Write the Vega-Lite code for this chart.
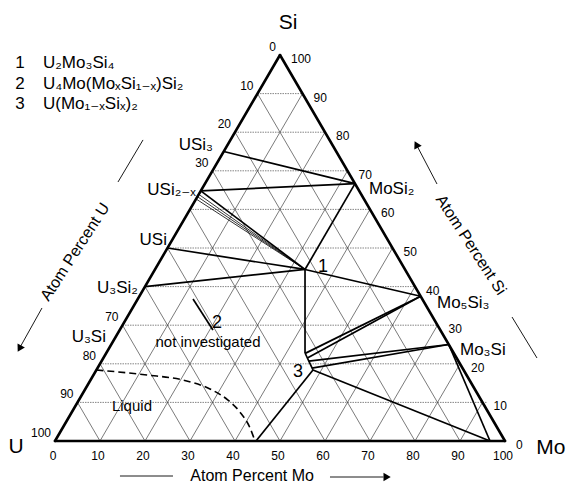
{
  "$schema": "https://vega.github.io/schema/vega-lite/v6.json",
  "width": 571,
  "height": 484,
  "autosize": "none",
  "padding": 0,
  "background": "white",
  "config": {
    "view": {"stroke": null},
    "text": {"font": "Liberation Sans, DejaVu Sans, sans-serif", "color": "black", "baseline": "middle"}
  },
  "datasets": {
    "grid_diag": [
      {"x": 10, "y": 0, "x2": 55, "y2": 90}, {"x": 20, "y": 0, "x2": 60, "y2": 80}, {"x": 30, "y": 0, "x2": 65, "y2": 70},
      {"x": 40, "y": 0, "x2": 70, "y2": 60}, {"x": 50, "y": 0, "x2": 75, "y2": 50}, {"x": 60, "y": 0, "x2": 80, "y2": 40},
      {"x": 70, "y": 0, "x2": 85, "y2": 30}, {"x": 80, "y": 0, "x2": 90, "y2": 20}, {"x": 90, "y": 0, "x2": 95, "y2": 10},
      {"x": 10, "y": 0, "x2": 5, "y2": 10}, {"x": 20, "y": 0, "x2": 10, "y2": 20}, {"x": 30, "y": 0, "x2": 15, "y2": 30},
      {"x": 40, "y": 0, "x2": 20, "y2": 40}, {"x": 50, "y": 0, "x2": 25, "y2": 50}, {"x": 60, "y": 0, "x2": 30, "y2": 60},
      {"x": 70, "y": 0, "x2": 35, "y2": 70}, {"x": 80, "y": 0, "x2": 40, "y2": 80}, {"x": 90, "y": 0, "x2": 45, "y2": 90}
    ],
    "grid_horiz": [
      {"x": 5, "y": 10, "x2": 96, "y2": 10}, {"x": 10, "y": 20, "x2": 90, "y2": 20}, {"x": 15, "y": 30, "x2": 85, "y2": 30},
      {"x": 20, "y": 40, "x2": 80, "y2": 40}, {"x": 25, "y": 50, "x2": 75, "y2": 50}, {"x": 30, "y": 60, "x2": 70, "y2": 60},
      {"x": 35, "y": 70, "x2": 65, "y2": 70}, {"x": 40, "y": 80, "x2": 60, "y2": 80}, {"x": 45, "y": 90, "x2": 55, "y2": 90}
    ],
    "edges": [
      {"x": 0, "y": 0, "x2": 100, "y2": 0}, {"x": 100, "y": 0, "x2": 50, "y2": 100}, {"x": 50, "y": 100, "x2": 0, "y2": 0}
    ],
    "phase_lines": [
      {"x": 37.5, "y": 75, "x2": 66.67, "y2": 66.67},
      {"x": 32.4, "y": 64.8, "x2": 66.67, "y2": 66.67},
      {"x": 32.4, "y": 64.8, "x2": 55.56, "y2": 44.44},
      {"x": 66.67, "y": 66.67, "x2": 55.56, "y2": 44.44},
      {"x": 25, "y": 50, "x2": 55.56, "y2": 44.44},
      {"x": 20, "y": 40, "x2": 55.56, "y2": 44.44},
      {"x": 55.56, "y": 44.44, "x2": 81.25, "y2": 37.5},
      {"x": 55.56, "y": 44.44, "x2": 55.56, "y2": 22.8},
      {"x": 55.56, "y": 22.8, "x2": 57.33, "y2": 18.4},
      {"x": 55.6, "y": 22.7, "x2": 81.25, "y2": 37.5},
      {"x": 56.08, "y": 21.5, "x2": 81.25, "y2": 37.5},
      {"x": 56.4, "y": 20.7, "x2": 87.5, "y2": 25},
      {"x": 57.1, "y": 18.9, "x2": 87.5, "y2": 25},
      {"x": 57.33, "y": 18.4, "x2": 96.67, "y2": 0},
      {"x": 57.33, "y": 18.4, "x2": 44.67, "y2": 0},
      {"x": 87.5, "y": 25, "x2": 96.67, "y2": 0},
      {"x": 30.67, "y": 36.8, "x2": 35.1, "y2": 28.76}
    ],
    "band_lines": [
      {"x": 31.95, "y": 63.9, "x2": 55.56, "y2": 44.44},
      {"x": 31.65, "y": 63.3, "x2": 55.56, "y2": 44.44},
      {"x": 31.35, "y": 62.7, "x2": 55.56, "y2": 44.44}
    ],
    "liquid": [
      {"o": 1, "x": 9.2, "y": 18.4}, {"o": 2, "x": 20.44, "y": 17.1}, {"o": 3, "x": 28.44, "y": 15.8},
      {"o": 4, "x": 34.44, "y": 13.47}, {"o": 5, "x": 38.44, "y": 10.6}, {"o": 6, "x": 41.11, "y": 7.5},
      {"o": 7, "x": 43.33, "y": 3.4}, {"o": 8, "x": 44.44, "y": 0}
    ],
    "decor": [
      {"x": 14.44, "y": -9.07, "x2": 26.22, "y2": -9.07},
      {"x": 61.11, "y": -9.33, "x2": 73.0, "y2": -9.33},
      {"x": 14.0, "y": 67.1, "x2": 19.56, "y2": 78.0},
      {"x": -2.89, "y": 34.46, "x2": -7.9, "y2": 24.0},
      {"x": 84.89, "y": 66.58, "x2": 80.3, "y2": 76.8},
      {"x": 101.56, "y": 32.12, "x2": 107.11, "y2": 21.5}
    ],
    "head_right": [{"x": 73.8, "y": -9.33}],
    "head_left": [{"x": -7.9, "y": 23.94}],
    "head_upleft": [{"x": 80.29, "y": 76.84}],
    "ticks_bottom": [
      {"x": 0, "y": 0, "label": "0"}, {"x": 10, "y": 0, "label": "10"}, {"x": 20, "y": 0, "label": "20"},
      {"x": 30, "y": 0, "label": "30"}, {"x": 40, "y": 0, "label": "40"}, {"x": 50, "y": 0, "label": "50"},
      {"x": 60, "y": 0, "label": "60"}, {"x": 70, "y": 0, "label": "70"}, {"x": 80, "y": 0, "label": "80"},
      {"x": 90, "y": 0, "label": "90"}, {"x": 100, "y": 0, "label": "100"}
    ],
    "ticks_left": [
      {"x": 50, "y": 100, "label": "0"}, {"x": 45, "y": 90, "label": "10"}, {"x": 40, "y": 80, "label": "20"},
      {"x": 35, "y": 70, "label": "30"}, {"x": 15, "y": 30, "label": "70"}, {"x": 10, "y": 20, "label": "80"},
      {"x": 5, "y": 10, "label": "90"}, {"x": 0, "y": 0, "label": "100"}
    ],
    "ticks_right": [
      {"x": 50, "y": 100, "label": "100"}, {"x": 55, "y": 90, "label": "90"}, {"x": 60, "y": 80, "label": "80"},
      {"x": 65, "y": 70, "label": "70"}, {"x": 70, "y": 60, "label": "60"}, {"x": 75, "y": 50, "label": "50"},
      {"x": 80, "y": 40, "label": "40"}, {"x": 85, "y": 30, "label": "30"}, {"x": 90, "y": 20, "label": "20"},
      {"x": 95, "y": 10, "label": "10"}, {"x": 100, "y": 0, "label": "0"}
    ],
    "vertex_labels": [
      {"x": 51.78, "y": 108.3, "label": "Si"}, {"x": -8.67, "y": -1.55, "label": "U"}, {"x": 110.2, "y": -1.8, "label": "Mo"}
    ],
    "labels_left": [
      {"x": 69.78, "y": 65.3, "label": "MoSi₂"}, {"x": 84.89, "y": 35.75, "label": "Mo₅Si₃"}, {"x": 90, "y": 23.6, "label": "Mo₃Si"}
    ],
    "labels_right": [
      {"x": 35.11, "y": 76.7, "label": "USi₃"}, {"x": 31.3, "y": 65.0, "label": "USi₂₋ₓ"}, {"x": 24.89, "y": 52.07, "label": "USi"},
      {"x": 18.44, "y": 39.64, "label": "U₃Si₂"}, {"x": 11.33, "y": 26.9, "label": "U₃Si"}
    ],
    "labels_num": [
      {"x": 59.56, "y": 45.1, "label": "1"}, {"x": 36, "y": 30.57, "label": "2"}, {"x": 54, "y": 17.9, "label": "3"}
    ],
    "labels_region": [
      {"x": 34, "y": 25.6, "label": "not investigated"}, {"x": 17.1, "y": 9.07, "label": "Liquid"}
    ],
    "legend_num": [
      {"x": -7.78, "y": 97.93, "label": "1"}, {"x": -7.78, "y": 92.49, "label": "2"}, {"x": -7.78, "y": 87.3, "label": "3"}
    ],
    "legend_text": [
      {"x": -2.67, "y": 97.93, "label": "U₂Mo₃Si₄"}, {"x": -2.67, "y": 92.49, "label": "U₄Mo(MoₓSi₁₋ₓ)Si₂"}, {"x": -2.67, "y": 87.3, "label": "U(Mo₁₋ₓSiₓ)₂"}
    ],
    "title_mo": [{"x": 43.8, "y": -9.1, "label": "Atom Percent Mo"}],
    "title_u": [{"x": 4.44, "y": 48.96, "label": "Atom Percent U"}],
    "title_si": [{"x": 92.44, "y": 50.78, "label": "Atom Percent Si"}]
  },
  "layer": [
    {
      "data": {"name": "grid_diag"},
      "mark": {"type": "rule", "stroke": "#222", "strokeWidth": 0.6},
      "encoding": {
        "x": {"field": "x", "type": "quantitative", "scale": {"domain": [-12.222, 114.667], "nice": false, "zero": false}, "axis": null},
        "y": {"field": "y", "type": "quantitative", "scale": {"domain": [-11.14, 114.25], "nice": false, "zero": false}, "axis": null},
        "x2": {"field": "x2"}, "y2": {"field": "y2"}
      }
    },
    {
      "data": {"name": "grid_horiz"},
      "mark": {"type": "rule", "stroke": "#666", "strokeWidth": 0.8, "strokeDash": [1.5, 1]},
      "encoding": {
        "x": {"field": "x", "type": "quantitative", "scale": {"domain": [-12.222, 114.667], "nice": false, "zero": false}, "axis": null},
        "y": {"field": "y", "type": "quantitative", "scale": {"domain": [-11.14, 114.25], "nice": false, "zero": false}, "axis": null},
        "x2": {"field": "x2"}, "y2": {"field": "y2"}
      }
    },
    {
      "data": {"name": "band_lines"},
      "mark": {"type": "rule", "stroke": "black", "strokeWidth": 0.8},
      "encoding": {
        "x": {"field": "x", "type": "quantitative", "scale": {"domain": [-12.222, 114.667], "nice": false, "zero": false}, "axis": null},
        "y": {"field": "y", "type": "quantitative", "scale": {"domain": [-11.14, 114.25], "nice": false, "zero": false}, "axis": null},
        "x2": {"field": "x2"}, "y2": {"field": "y2"}
      }
    },
    {
      "data": {"name": "phase_lines"},
      "mark": {"type": "rule", "stroke": "black", "strokeWidth": 1.7},
      "encoding": {
        "x": {"field": "x", "type": "quantitative", "scale": {"domain": [-12.222, 114.667], "nice": false, "zero": false}, "axis": null},
        "y": {"field": "y", "type": "quantitative", "scale": {"domain": [-11.14, 114.25], "nice": false, "zero": false}, "axis": null},
        "x2": {"field": "x2"}, "y2": {"field": "y2"}
      }
    },
    {
      "data": {"name": "edges"},
      "mark": {"type": "rule", "stroke": "black", "strokeWidth": 2.6, "strokeCap": "round"},
      "encoding": {
        "x": {"field": "x", "type": "quantitative", "scale": {"domain": [-12.222, 114.667], "nice": false, "zero": false}, "axis": null},
        "y": {"field": "y", "type": "quantitative", "scale": {"domain": [-11.14, 114.25], "nice": false, "zero": false}, "axis": null},
        "x2": {"field": "x2"}, "y2": {"field": "y2"}
      }
    },
    {
      "data": {"name": "liquid"},
      "mark": {"type": "line", "stroke": "black", "strokeWidth": 1.6, "strokeDash": [7, 4], "interpolate": "monotone"},
      "encoding": {
        "x": {"field": "x", "type": "quantitative", "scale": {"domain": [-12.222, 114.667], "nice": false, "zero": false}, "axis": null},
        "y": {"field": "y", "type": "quantitative", "scale": {"domain": [-11.14, 114.25], "nice": false, "zero": false}, "axis": null},
        "order": {"field": "o", "type": "quantitative"}
      }
    },
    {
      "data": {"name": "decor"},
      "mark": {"type": "rule", "stroke": "black", "strokeWidth": 0.9},
      "encoding": {
        "x": {"field": "x", "type": "quantitative", "scale": {"domain": [-12.222, 114.667], "nice": false, "zero": false}, "axis": null},
        "y": {"field": "y", "type": "quantitative", "scale": {"domain": [-11.14, 114.25], "nice": false, "zero": false}, "axis": null},
        "x2": {"field": "x2"}, "y2": {"field": "y2"}
      }
    },
    {
      "data": {"name": "head_right"},
      "mark": {"type": "point", "shape": "triangle-right", "filled": true, "color": "black", "size": 70, "opacity": 1},
      "encoding": {
        "x": {"field": "x", "type": "quantitative", "scale": {"domain": [-12.222, 114.667], "nice": false, "zero": false}, "axis": null},
        "y": {"field": "y", "type": "quantitative", "scale": {"domain": [-11.14, 114.25], "nice": false, "zero": false}, "axis": null}
      }
    },
    {
      "data": {"name": "head_left"},
      "mark": {"type": "point", "shape": "triangle-up", "filled": true, "color": "black", "size": 70, "opacity": 1, "angle": 209},
      "encoding": {
        "x": {"field": "x", "type": "quantitative", "scale": {"domain": [-12.222, 114.667], "nice": false, "zero": false}, "axis": null},
        "y": {"field": "y", "type": "quantitative", "scale": {"domain": [-11.14, 114.25], "nice": false, "zero": false}, "axis": null}
      }
    },
    {
      "data": {"name": "head_upleft"},
      "mark": {"type": "point", "shape": "triangle-up", "filled": true, "color": "black", "size": 70, "opacity": 1, "angle": 332},
      "encoding": {
        "x": {"field": "x", "type": "quantitative", "scale": {"domain": [-12.222, 114.667], "nice": false, "zero": false}, "axis": null},
        "y": {"field": "y", "type": "quantitative", "scale": {"domain": [-11.14, 114.25], "nice": false, "zero": false}, "axis": null}
      }
    },
    {
      "data": {"name": "ticks_bottom"},
      "mark": {"type": "text", "fontSize": 12, "align": "center", "dx": -2, "dy": 15},
      "encoding": {
        "x": {"field": "x", "type": "quantitative", "scale": {"domain": [-12.222, 114.667], "nice": false, "zero": false}, "axis": null},
        "y": {"field": "y", "type": "quantitative", "scale": {"domain": [-11.14, 114.25], "nice": false, "zero": false}, "axis": null},
        "text": {"field": "label"}
      }
    },
    {
      "data": {"name": "ticks_left"},
      "mark": {"type": "text", "fontSize": 12, "align": "right", "dx": -4, "dy": -8},
      "encoding": {
        "x": {"field": "x", "type": "quantitative", "scale": {"domain": [-12.222, 114.667], "nice": false, "zero": false}, "axis": null},
        "y": {"field": "y", "type": "quantitative", "scale": {"domain": [-11.14, 114.25], "nice": false, "zero": false}, "axis": null},
        "text": {"field": "label"}
      }
    },
    {
      "data": {"name": "ticks_right"},
      "mark": {"type": "text", "fontSize": 12, "align": "left", "dx": 11, "dy": 4},
      "encoding": {
        "x": {"field": "x", "type": "quantitative", "scale": {"domain": [-12.222, 114.667], "nice": false, "zero": false}, "axis": null},
        "y": {"field": "y", "type": "quantitative", "scale": {"domain": [-11.14, 114.25], "nice": false, "zero": false}, "axis": null},
        "text": {"field": "label"}
      }
    },
    {
      "data": {"name": "vertex_labels"},
      "mark": {"type": "text", "fontSize": 21, "align": "center"},
      "encoding": {
        "x": {"field": "x", "type": "quantitative", "scale": {"domain": [-12.222, 114.667], "nice": false, "zero": false}, "axis": null},
        "y": {"field": "y", "type": "quantitative", "scale": {"domain": [-11.14, 114.25], "nice": false, "zero": false}, "axis": null},
        "text": {"field": "label"}
      }
    },
    {
      "data": {"name": "labels_left"},
      "mark": {"type": "text", "fontSize": 17, "align": "left"},
      "encoding": {
        "x": {"field": "x", "type": "quantitative", "scale": {"domain": [-12.222, 114.667], "nice": false, "zero": false}, "axis": null},
        "y": {"field": "y", "type": "quantitative", "scale": {"domain": [-11.14, 114.25], "nice": false, "zero": false}, "axis": null},
        "text": {"field": "label"}
      }
    },
    {
      "data": {"name": "labels_right"},
      "mark": {"type": "text", "fontSize": 17, "align": "right"},
      "encoding": {
        "x": {"field": "x", "type": "quantitative", "scale": {"domain": [-12.222, 114.667], "nice": false, "zero": false}, "axis": null},
        "y": {"field": "y", "type": "quantitative", "scale": {"domain": [-11.14, 114.25], "nice": false, "zero": false}, "axis": null},
        "text": {"field": "label"}
      }
    },
    {
      "data": {"name": "labels_num"},
      "mark": {"type": "text", "fontSize": 18, "align": "center"},
      "encoding": {
        "x": {"field": "x", "type": "quantitative", "scale": {"domain": [-12.222, 114.667], "nice": false, "zero": false}, "axis": null},
        "y": {"field": "y", "type": "quantitative", "scale": {"domain": [-11.14, 114.25], "nice": false, "zero": false}, "axis": null},
        "text": {"field": "label"}
      }
    },
    {
      "data": {"name": "labels_region"},
      "mark": {"type": "text", "fontSize": 15, "align": "center"},
      "encoding": {
        "x": {"field": "x", "type": "quantitative", "scale": {"domain": [-12.222, 114.667], "nice": false, "zero": false}, "axis": null},
        "y": {"field": "y", "type": "quantitative", "scale": {"domain": [-11.14, 114.25], "nice": false, "zero": false}, "axis": null},
        "text": {"field": "label"}
      }
    },
    {
      "data": {"name": "legend_num"},
      "mark": {"type": "text", "fontSize": 17, "align": "center"},
      "encoding": {
        "x": {"field": "x", "type": "quantitative", "scale": {"domain": [-12.222, 114.667], "nice": false, "zero": false}, "axis": null},
        "y": {"field": "y", "type": "quantitative", "scale": {"domain": [-11.14, 114.25], "nice": false, "zero": false}, "axis": null},
        "text": {"field": "label"}
      }
    },
    {
      "data": {"name": "legend_text"},
      "mark": {"type": "text", "fontSize": 17, "align": "left"},
      "encoding": {
        "x": {"field": "x", "type": "quantitative", "scale": {"domain": [-12.222, 114.667], "nice": false, "zero": false}, "axis": null},
        "y": {"field": "y", "type": "quantitative", "scale": {"domain": [-11.14, 114.25], "nice": false, "zero": false}, "axis": null},
        "text": {"field": "label"}
      }
    },
    {
      "data": {"name": "title_mo"},
      "mark": {"type": "text", "fontSize": 16, "align": "center"},
      "encoding": {
        "x": {"field": "x", "type": "quantitative", "scale": {"domain": [-12.222, 114.667], "nice": false, "zero": false}, "axis": null},
        "y": {"field": "y", "type": "quantitative", "scale": {"domain": [-11.14, 114.25], "nice": false, "zero": false}, "axis": null},
        "text": {"field": "label"}
      }
    },
    {
      "data": {"name": "title_u"},
      "mark": {"type": "text", "fontSize": 16, "align": "center", "angle": -57},
      "encoding": {
        "x": {"field": "x", "type": "quantitative", "scale": {"domain": [-12.222, 114.667], "nice": false, "zero": false}, "axis": null},
        "y": {"field": "y", "type": "quantitative", "scale": {"domain": [-11.14, 114.25], "nice": false, "zero": false}, "axis": null},
        "text": {"field": "label"}
      }
    },
    {
      "data": {"name": "title_si"},
      "mark": {"type": "text", "fontSize": 16, "align": "center", "angle": 57},
      "encoding": {
        "x": {"field": "x", "type": "quantitative", "scale": {"domain": [-12.222, 114.667], "nice": false, "zero": false}, "axis": null},
        "y": {"field": "y", "type": "quantitative", "scale": {"domain": [-11.14, 114.25], "nice": false, "zero": false}, "axis": null},
        "text": {"field": "label"}
      }
    }
  ]
}
